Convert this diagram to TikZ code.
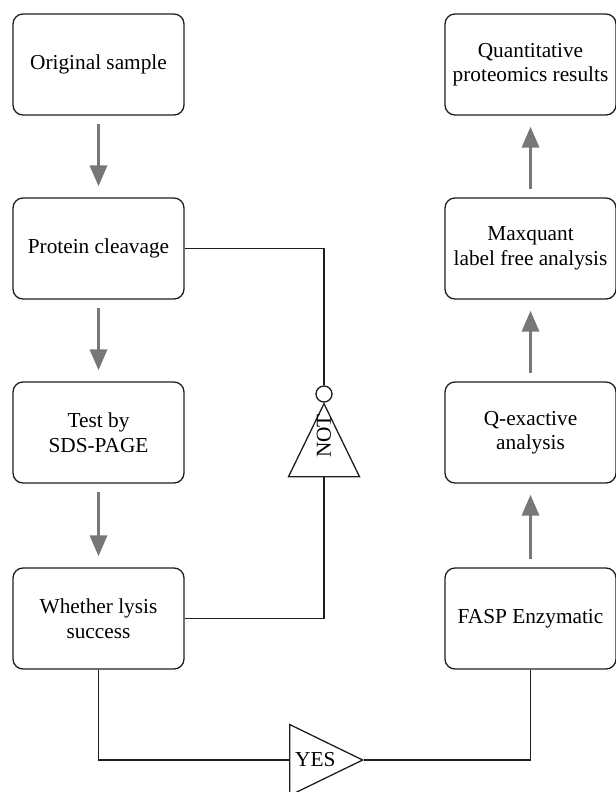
\documentclass[tikz,border=0pt]{standalone}
\usepackage{fontspec}
\setmainfont{Liberation Serif}
\usetikzlibrary{arrows.meta, shapes.geometric}

\definecolor{arrowgray}{HTML}{777777}
\definecolor{linegray}{HTML}{1E1E1E}

\begin{document}
\begin{tikzpicture}[x=1bp, y=-1bp,
    box/.style={draw=linegray, line width=1.3bp, rounded corners=10bp,
        minimum width=171bp, minimum height=101bp, inner sep=0pt,
        align=center, font=\fontsize{21.3bp}{24.5bp}\selectfont},
    gate/.style={draw=linegray, line width=1.3bp, isosceles triangle,
        isosceles triangle stretches, minimum width=71bp, minimum height=73bp,
        inner sep=0pt, font=\fontsize{21.3bp}{24.5bp}\selectfont},
    flow/.style={draw=arrowgray, line width=3.5bp,
        -{Triangle[width=17bp, length=21bp]}, shorten <=8bp, shorten >=11bp},
    wire/.style={draw=linegray, line width=1.3bp}]

\useasboundingbox (0,0) rectangle (616,792);

% 左列
\node[box] (orig) at (98.5,64.5) {Original sample};
\node[box] (pc)   at (98.5,248.5) {Protein cleavage};
\node[box] (sds)  at (98.5,432.5) {Test by\\SDS-PAGE};
\node[box] (wls)  at (98.5,618.5) {Whether lysis\\success};

% 右列
\node[box] (qpr)  at (530.5,64.5) {Quantitative\\proteomics results};
\node[box] (mq)   at (530.5,248.5) {Maxquant\\label free analysis};
\node[box] (qe)   at (530.5,432.5) {Q-exactive\\analysis};
\node[box] (fasp) at (530.5,618.5) {FASP Enzymatic};

% 判断
\node[gate, rotate=90, anchor=apex] (notg) at (324,402) {};
\node[rotate=90, inner sep=0pt, font=\fontsize{21.3bp}{24.5bp}\selectfont] (nott) at (324,436) {NOT};
\node[draw=linegray, line width=1.3bp, circle, minimum size=16bp, inner sep=0pt] (notc) at (324,394) {};
\node[gate, anchor=lower side] (yesg) at (289,760) {YES};

% 箭头
\draw[flow] (orig.south) -- (pc.north);
\draw[flow] (pc.south) -- (sds.north);
\draw[flow] (sds.south) -- (wls.north);
\draw[flow] (fasp.north) -- (qe.south);
\draw[flow] (qe.north) -- (mq.south);
\draw[flow] (mq.north) -- (qpr.south);

% 连线
\draw[wire] (pc.east) -| (notc.north);
\draw[wire] (notg.lower side) |- (wls.east);
\draw[wire] (wls.south) |- (yesg.lower side);
\draw[wire] (yesg.apex) -| (fasp.south);

\end{tikzpicture}
\end{document}
